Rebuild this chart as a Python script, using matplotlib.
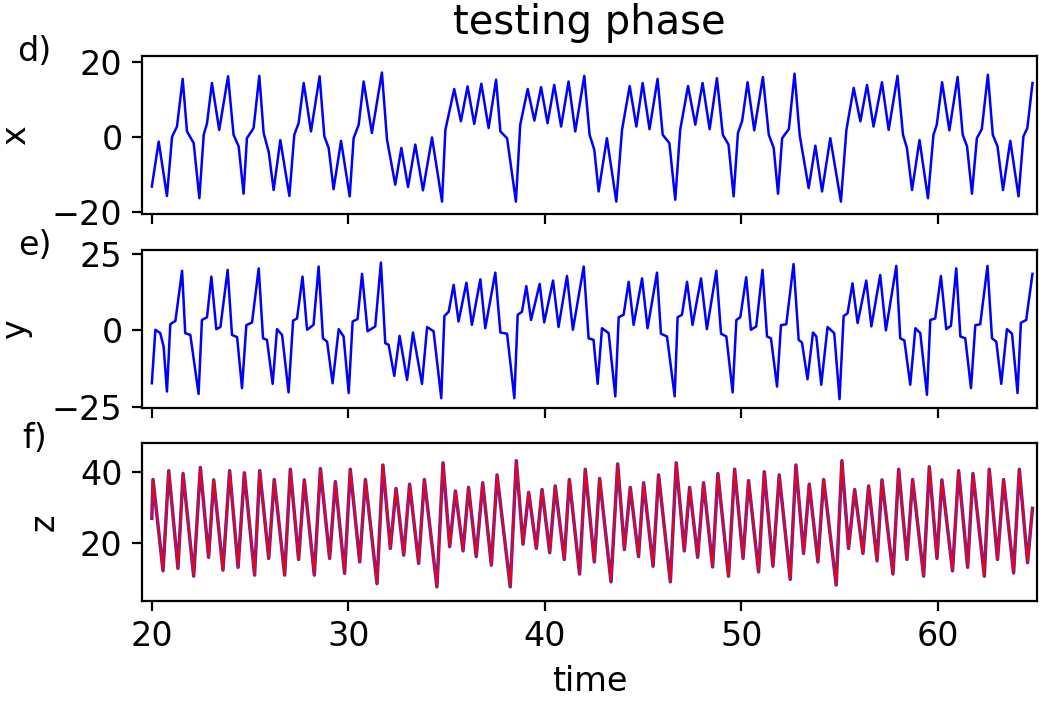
import matplotlib
matplotlib.use("Agg")
import matplotlib.pyplot as plt

# ---------------- data ----------------
t_x = [20.00, 20.35, 20.77, 21.03, 21.28, 21.57, 21.79, 22.13, 22.42, 22.64, 22.81, 23.06, 23.43, 23.88,
       24.16, 24.42, 24.67, 24.84, 25.18, 25.47, 25.69, 25.95, 26.20, 26.54, 27.00, 27.25, 27.47, 27.73,
       28.10, 28.54, 28.78, 29.00, 29.25, 29.63, 30.07, 30.27, 30.53, 30.78, 31.20, 31.71, 31.97, 32.39,
       32.70, 33.04, 33.41, 33.80, 34.26, 34.77, 34.94, 35.39, 35.73, 36.07, 36.41, 36.77, 37.14, 37.52,
       37.74, 38.08, 38.53, 38.75, 39.13, 39.47, 39.81, 40.14, 40.48, 40.83, 41.21, 41.55, 42.01, 42.28,
       42.52, 42.74, 43.16, 43.64, 43.93, 44.32, 44.66, 44.98, 45.33, 45.74, 46.00, 46.34, 46.64, 46.89,
       47.29, 47.66, 48.03, 48.39, 48.76, 49.06, 49.35, 49.61, 49.83, 50.04, 50.32, 50.66, 51.10, 51.40,
       51.65, 51.87, 52.08, 52.42, 52.71, 52.97, 53.43, 53.77, 54.11, 54.53, 55.07, 55.35, 55.72, 56.06,
       56.40, 56.73, 57.16, 57.50, 57.95, 58.23, 58.43, 58.69, 59.07, 59.50, 59.78, 59.95, 60.22, 60.59,
       61.01, 61.27, 61.49, 61.74, 61.99, 62.24, 62.55, 62.80, 63.04, 63.32, 63.69, 64.11, 64.36, 64.56,
       64.82]
x_vals = [-13.2, -1.2, -15.7, 0.1, 2.8, 15.5, 1.5, -1.6, -16.3, 0.6, 3.7, 14.4, 1.9, 16.2,
          0.6, -2.5, -15.1, -0.3, 2.4, 16.3, 1.1, -4.0, -14.1, -0.8, -15.7, 0.6, 3.7, 14.4,
          1.5, 16.2, 0.2, -2.9, -13.9, -1.0, -15.8, -0.3, 3.3, 14.8, 1.1, 17.2, -0.7, -12.7,
          -2.9, -13.3, -2.0, -14.2, -0.1, -17.2, 1.9, 12.8, 4.2, 13.5, 3.5, 14.2, 2.4, 15.3,
          1.5, -0.3, -17.2, 3.3, 12.8, 4.4, 13.3, 3.7, 13.9, 2.8, 14.8, 1.5, 16.3, 0.6,
          -3.4, -14.5, -0.3, -17.2, 1.9, 13.6, 2.8, 14.4, 2.1, 15.5, 0.6, -1.6, -16.7, 1.9,
          13.6, 3.3, 14.4, 2.1, 15.7, 0.6, -2.0, -15.8, 1.1, 4.2, 14.6, 1.8, 16.0, 0.6,
          -2.9, -15.1, -0.3, 2.1, 16.9, 0.6, -13.6, -2.3, -14.5, -0.3, -17.2, 1.9, 13.1, 4.2,
          13.9, 2.8, 14.6, 1.9, 16.3, 0.6, -2.9, -14.1, -0.8, -16.3, 0.6, 3.3, 14.6, 1.8,
          16.0, 0.6, -2.5, -15.1, -0.3, 2.1, 16.6, 0.6, -2.5, -14.1, -1.0, -15.8, 0.2, 2.4,
          14.4]

t_y = [20.00, 20.18, 20.43, 20.60, 20.77, 20.94, 21.20, 21.54, 21.70, 21.96, 22.38, 22.55, 22.81, 23.03,
       23.28, 23.49, 23.86, 24.08, 24.34, 24.59, 24.81, 25.10, 25.44, 25.66, 25.86, 26.15, 26.37, 26.63,
       26.96, 27.19, 27.39, 27.67, 27.90, 28.23, 28.49, 28.71, 28.92, 29.20, 29.51, 29.76, 30.02, 30.22,
       30.47, 30.70, 30.98, 31.37, 31.66, 31.88, 32.05, 32.34, 32.61, 32.99, 33.29, 33.75, 34.01, 34.34,
       34.73, 34.89, 35.11, 35.36, 35.61, 36.01, 36.29, 36.72, 36.97, 37.48, 37.74, 38.08, 38.45, 38.62,
       38.84, 39.06, 39.30, 39.74, 39.97, 40.42, 40.70, 41.13, 41.43, 41.98, 42.23, 42.48, 42.69, 42.91,
       43.25, 43.59, 43.76, 44.01, 44.27, 44.52, 44.95, 45.23, 45.71, 45.91, 46.22, 46.61, 46.76, 46.98,
       47.24, 47.52, 47.95, 48.25, 48.73, 48.97, 49.24, 49.56, 49.75, 49.95, 50.25, 50.49, 50.76, 51.08,
       51.31, 51.51, 51.82, 52.02, 52.29, 52.66, 52.92, 53.09, 53.37, 53.65, 53.82, 54.07, 54.39, 54.73,
       55.00, 55.21, 55.41, 55.66, 55.92, 56.36, 56.62, 57.07, 57.36, 57.89, 58.09, 58.30, 58.60, 58.86,
       59.11, 59.45, 59.62, 59.87, 60.16, 60.43, 60.67, 60.94, 61.15, 61.40, 61.69, 61.91, 62.16, 62.53,
       62.76, 62.98, 63.23, 63.52, 63.78, 64.06, 64.23, 64.50, 64.82]
y_vals = [-17.3, 0.2, -0.9, -5.3, -20.0, 2.0, 3.1, 19.5, -0.9, -1.5, -20.8, 3.4, 4.3, 17.6,
          0.4, 1.1, 19.8, -1.5, -2.2, -18.9, 1.7, 2.6, 20.3, -2.6, -3.1, -17.5, 0.4, -1.5,
          -20.3, 3.2, 3.9, 17.6, 0.2, 1.8, 20.9, -2.6, -3.7, -17.3, 0.4, -2.0, -20.5, 2.9,
          3.7, 18.5, -0.3, 1.3, 22.2, -4.2, -4.7, -14.9, -1.8, -16.2, -0.7, -17.5, 1.1, -0.3,
          -22.2, 4.7, 6.1, 14.9, 2.9, 15.6, 1.8, 16.7, 0.7, 18.9, -0.7, -1.1, -22.2, 5.1,
          6.1, 14.5, 3.4, 15.2, 2.6, 16.3, 1.1, 17.8, 0.2, 20.9, -2.6, -3.1, -17.5, 0.7,
          -0.9, -21.6, 4.3, 5.1, 15.9, 1.8, 17.0, 0.7, 18.9, -1.1, -2.0, -21.6, 4.3, 5.1,
          15.9, 1.8, 17.0, 0.4, 19.5, -1.1, -2.0, -20.3, 3.4, 4.3, 17.4, 0.2, 1.3, 19.8,
          -2.0, -2.6, -18.4, 1.7, 2.0, 21.7, -3.1, -4.0, -16.0, -0.7, -2.0, -17.8, 1.1, -0.9,
          -22.5, 4.7, 5.6, 15.4, 2.4, 16.3, 1.3, 18.1, 0.0, 21.1, -2.6, -3.3, -17.8, 0.7,
          -0.9, -21.1, 3.4, 3.9, 17.8, 0.4, 1.5, 20.3, -2.0, -2.6, -18.9, 1.7, 2.0, 21.1,
          -2.6, -3.7, -17.5, 0.4, -1.1, -20.5, 2.5, 3.4, 18.5]

t_z = [20.00, 20.06, 20.57, 20.86, 21.33, 21.59, 22.13, 22.47, 22.89, 23.15, 23.62, 23.96, 24.39, 24.71,
       25.23, 25.49, 25.95, 26.23, 26.76, 27.05, 27.47, 27.76, 28.27, 28.58, 29.05, 29.34, 29.81, 30.10,
       30.58, 30.87, 31.46, 31.76, 32.14, 32.43, 32.82, 33.12, 33.58, 33.87, 34.51, 34.82, 35.16, 35.45,
       35.84, 36.12, 36.51, 36.84, 37.28, 37.57, 38.24, 38.55, 38.89, 39.18, 39.57, 39.86, 40.25, 40.53,
       40.99, 41.25, 41.77, 42.06, 42.52, 42.79, 43.37, 43.71, 44.05, 44.35, 44.77, 45.03, 45.51, 45.79,
       46.39, 46.69, 47.10, 47.37, 47.78, 48.08, 48.54, 48.81, 49.35, 49.66, 50.09, 50.37, 50.88, 51.17,
       51.61, 51.93, 52.49, 52.78, 53.17, 53.46, 53.90, 54.19, 54.83, 55.12, 55.46, 55.77, 56.19, 56.48,
       56.91, 57.16, 57.72, 58.01, 58.43, 58.72, 59.28, 59.57, 59.96, 60.21, 60.75, 61.06, 61.52, 61.79,
       62.37, 62.62, 63.04, 63.35, 63.86, 64.15, 64.57, 64.82]
z_vals = [26.9, 37.8, 12.1, 40.3, 12.8, 39.5, 10.6, 41.2, 15.9, 37.7, 12.3, 40.3, 13.1, 39.7,
          10.9, 40.3, 15.6, 37.8, 10.9, 40.7, 15.3, 37.7, 10.9, 40.9, 15.6, 37.2, 11.4, 40.7,
          14.6, 37.8, 8.5, 41.9, 18.4, 35.3, 16.5, 36.5, 14.2, 37.8, 7.6, 42.5, 18.9, 34.6,
          17.7, 35.6, 16.1, 36.9, 13.7, 39.1, 7.6, 43.1, 19.6, 34.2, 18.4, 35.0, 17.2, 36.0,
          15.3, 37.8, 11.2, 40.7, 14.6, 38.1, 9.0, 42.2, 18.1, 35.6, 16.1, 36.9, 13.4, 39.1,
          9.0, 42.5, 17.7, 35.6, 15.9, 36.9, 13.2, 39.5, 10.6, 40.7, 15.6, 37.5, 11.8, 40.0,
          13.4, 39.1, 9.7, 41.9, 17.0, 36.5, 14.6, 37.8, 8.1, 43.1, 18.4, 35.0, 17.0, 36.0,
          14.9, 37.7, 11.2, 40.7, 15.3, 37.8, 10.6, 41.4, 15.6, 37.7, 12.1, 40.3, 13.1, 39.5,
          10.6, 40.7, 15.3, 37.8, 11.5, 40.7, 14.4, 29.7]

panel_tags = ["d)", "e)", "f)"]
axis_names = ["x", "y", "z"]
y_ticks = [[-20, 0, 20], [-25, 0, 25], [20, 40]]
x_ticks = [20, 30, 40, 50, 60]

# ---------------- figure ----------------
FS = 12
plt.rcParams["font.family"] = ["DejaVu Sans"]
plt.rcParams["font.size"] = FS

DPI = 200
fig = plt.figure(figsize=(1064 / DPI, 705 / DPI), dpi=DPI)
left, width, height = 142 / 1064, (1037 - 142) / 1064, 158 / 705
bottoms = [1 - 214 / 705, 1 - 408 / 705, 1 - 601 / 705]
ylims = [(-20.5, 21.6), (-25.4, 26.3), (3.6, 48.1)]

axes = []
for i in range(3):
    ax = fig.add_axes([left, bottoms[i], width, height])
    axes.append(ax)

axes[0].plot(t_x, x_vals, color="#0000ff", lw=0.9, solid_joinstyle="round")
axes[1].plot(t_y, y_vals, color="#0000ff", lw=0.9, solid_joinstyle="round")
axes[2].plot(t_z, z_vals, color="#3a2bd0", lw=1.25, solid_joinstyle="round")
axes[2].plot(t_z, z_vals, color="#ff0000", lw=0.75, alpha=0.9, solid_joinstyle="round")

for i, ax in enumerate(axes):
    ax.set_xlim(19.5, 65.05)
    ax.set_ylim(*ylims[i])
    ax.set_yticks(y_ticks[i])
    ax.set_xticks(x_ticks)
    ax.set_ylabel(axis_names[i], labelpad=7)
    ax.text(-0.12, 1.03, panel_tags[i], transform=ax.transAxes,
            ha="center", va="center")
    if i < 2:
        ax.tick_params(labelbottom=False)

axes[0].set_title("testing phase", fontsize=14.4, pad=8)
axes[2].set_xlabel("time")

fig.savefig("out.png", dpi=DPI)
